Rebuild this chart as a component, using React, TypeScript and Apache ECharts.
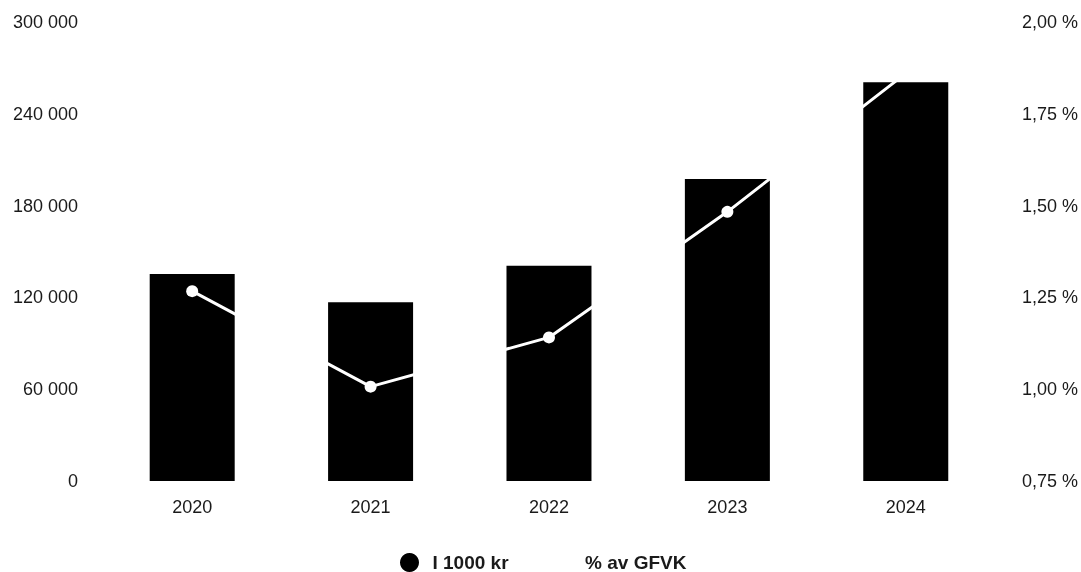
import React, { useEffect, useRef } from "react";
import * as echarts from "echarts";

const years = ["2020", "2021", "2022", "2023", "2024"];
const amounts = [135300, 116800, 140700, 197400, 260600];
const percents = [1.267, 1.007, 1.141, 1.483, 1.86];
const seriesNames = ["I 1000 kr", "% av GFVK"];

const fmtThousands = (v: number) =>
  String(Math.round(v)).replace(/\B(?=(\d{3})+(?!\d))/g, " ");
const fmtPct = (v: number) => v.toFixed(2).replace(".", ",") + " %";

export default function App() {
  const ref = useRef<HTMLDivElement>(null);
  useEffect(() => {
    if (!ref.current) return;
    const chart = echarts.init(ref.current, undefined, { renderer: "svg" });
    const font = "'Liberation Sans', Arial, sans-serif";
    chart.setOption({
      animation: false,
      textStyle: { fontFamily: font },
      grid: { left: 103, right: 86, top: 22, bottom: 91, containLabel: false },
      legend: {
        top: 548,
        left: 395,
        icon: "circle",
        itemWidth: 36,
        itemHeight: 19,
        itemGap: 44,
        textStyle: {
          fontSize: 19,
          lineHeight: 19,
          fontWeight: "bold",
          color: "#1a1a1a",
          fontFamily: font,
        },
        data: seriesNames,
      },
      xAxis: {
        type: "category",
        data: years,
        axisLine: { show: false },
        axisTick: { show: false },
        axisLabel: { fontSize: 18, color: "#1a1a1a", margin: 17, fontFamily: font },
      },
      yAxis: [
        {
          type: "value",
          min: 0,
          max: 300000,
          interval: 60000,
          splitLine: { show: false },
          axisLine: { show: false },
          axisTick: { show: false },
          axisLabel: { fontSize: 18, color: "#1a1a1a", margin: 25, formatter: fmtThousands, fontFamily: font },
        },
        {
          type: "value",
          min: 0.75,
          max: 2.0,
          interval: 0.25,
          position: "right",
          splitLine: { show: false },
          axisLine: { show: false },
          axisTick: { show: false },
          axisLabel: { fontSize: 18, color: "#1a1a1a", margin: 27, formatter: fmtPct, fontFamily: font },
        },
      ],
      series: [
        {
          name: seriesNames[0],
          type: "bar",
          data: amounts,
          barWidth: 85,
          itemStyle: { color: "#000000" },
          z: 1,
        },
        {
          name: seriesNames[1],
          type: "line",
          yAxisIndex: 1,
          data: percents,
          symbol: "circle",
          symbolSize: 12,
          lineStyle: { color: "#ffffff", width: 3 },
          itemStyle: { color: "#ffffff" },
          z: 3,
        },
      ],
    });
    return () => chart.dispose();
  }, []);
  return (
    <div
      ref={ref}
      style={{ position: "fixed", left: 0, top: 0, width: 1081, height: 572 }}
    />
  );
}
